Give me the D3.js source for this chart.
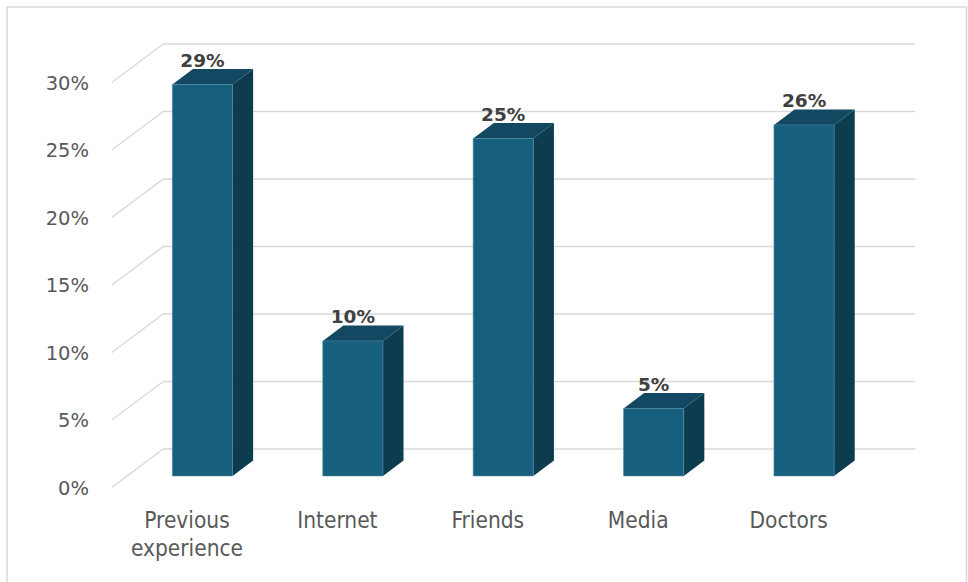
<!DOCTYPE html>
<html>
<head>
<meta charset="utf-8">
<script src="https://cdn.jsdelivr.net/npm/d3@7"></script>
<style>
  html, body { margin: 0; padding: 0; background: #ffffff; }
  svg { display: block; }
</style>
</head>
<body>
<svg id="chart" width="968" height="582"></svg>
<script>
// Sources of information, share of respondents
const categories = [["Previous", "experience"], ["Internet"], ["Friends"], ["Media"], ["Doctors"]];
const values = [0.29, 0.10, 0.25, 0.05, 0.26];
const tickValues = [0, 0.05, 0.10, 0.15, 0.20, 0.25, 0.30];

const svg = d3.select("#chart");
const W = 968, H = 582;

// outer frame
svg.append("rect")
  .attr("x", 7).attr("y", 7)
  .attr("width", 959.5).attr("height", H + 10)
  .attr("fill", "#ffffff")
  .attr("stroke", "#d9d9d9").attr("stroke-width", 1.5);

// front plane of the 3D box
const frontLeft = 111.8, frontRight = 863.8;
const DX = 51.5, DY = -38.5;            // full depth offset of the floor
const barFront = 0.3, barBack = 0.7;    // bars sit in the middle of the depth

const keys = categories.map(c => c.join(" "));
const x = d3.scaleBand().domain(keys).range([frontLeft, frontRight]).padding(0);
const y = d3.scaleLinear().domain([0, 0.30]).range([487.5, 82.5]);

const P = (px, v, d) => [px + d * DX, y(v) + d * DY];
const line = pts => "M" + pts.map(p => p.join(",")).join("L");

// gridlines: left wall diagonal + back wall horizontal
const grid = svg.append("g");
tickValues.forEach(t => {
  grid.append("path")
    .attr("d", line([P(frontLeft, t, 0), P(frontLeft, t, 1), P(frontRight, t, 1)]))
    .attr("fill", "none")
    .attr("stroke", "#d9d9d9")
    .attr("stroke-width", 1.4);
});

// value axis labels
const fmt = d3.format(".0%");
svg.append("g").selectAll("text")
  .data(tickValues).join("text")
  .attr("x", 89)
  .attr("y", d => y(d))
  .attr("dy", "0.37em")
  .attr("text-anchor", "end")
  .attr("font-family", "DejaVu Sans, Verdana, sans-serif")
  .attr("font-size", 19.5)
  .attr("fill", "#595959")
  .text(d => fmt(d));

// 3D bars
const barW = x.bandwidth() * 0.4;
const bars = svg.append("g");
keys.forEach((k, i) => {
  const v = values[i];
  const cx = x(k) + x.bandwidth() / 2;
  const xl = cx - barW / 2, xr = cx + barW / 2;
  const g = bars.append("g");
  // side face
  g.append("path")
    .attr("d", line([P(xr, 0, barFront), P(xr, v, barFront), P(xr, v, barBack), P(xr, 0, barBack)]) + "Z")
    .attr("fill", "#0e3c4f");
  // top face
  g.append("path")
    .attr("d", line([P(xl, v, barFront), P(xr, v, barFront), P(xr, v, barBack), P(xl, v, barBack)]) + "Z")
    .attr("fill", "#124862");
  // front face
  g.append("path")
    .attr("d", line([P(xl, 0, barFront), P(xl, v, barFront), P(xr, v, barFront), P(xr, 0, barFront)]) + "Z")
    .attr("fill", "#175f7e")
    .attr("stroke", "#4d8aa3")
    .attr("stroke-width", 0.6);
  // value label above the bar
  const top = P(cx, v, barBack);
  g.append("text")
    .attr("x", cx + barFront * DX)
    .attr("y", top[1] - 2.5)
    .attr("text-anchor", "middle")
    .attr("font-family", "DejaVu Sans, Verdana, sans-serif")
    .attr("font-weight", "bold")
    .attr("font-size", 18.5)
    .attr("fill", "#404040")
    .text(fmt(v));
});

// category labels
const cats = svg.append("g");
categories.forEach((lines, i) => {
  const cx = x(keys[i]) + x.bandwidth() / 2;
  const t = cats.append("text")
    .attr("text-anchor", "middle")
    .attr("font-family", "DejaVu Sans Condensed, DejaVu Sans, sans-serif")
    .attr("font-stretch", "condensed")
    .attr("font-size", 22.5)
    .attr("fill", "#595959");
  lines.forEach((s, j) => {
    t.append("tspan").attr("x", cx).attr("y", 527.5 + j * 28).text(s);
  });
});
</script>
</body>
</html>
